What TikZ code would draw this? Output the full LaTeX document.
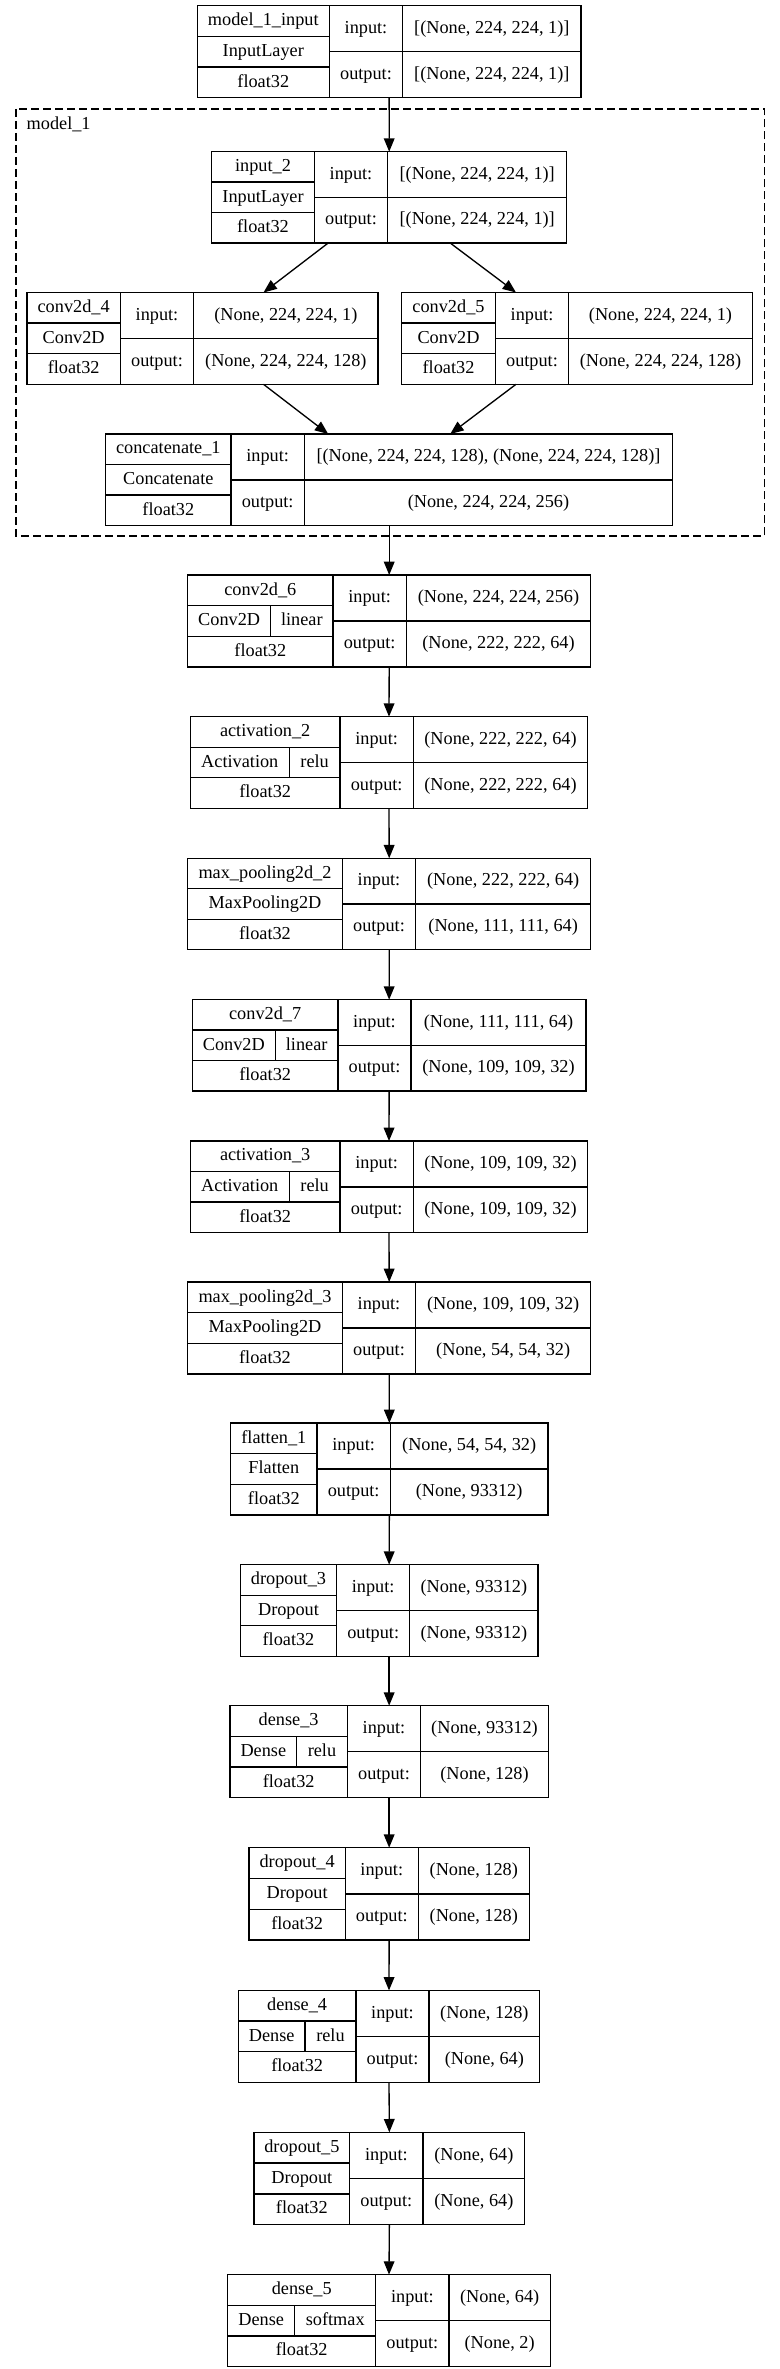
\documentclass[tikz,border=0pt]{standalone}
\usepackage{fontspec}
\setmainfont{Liberation Serif}
\usetikzlibrary{arrows.meta,calc}
\tikzset{
  boxnode/.style={draw=black, line width=1pt, rectangle, inner sep=0pt, outer sep=0pt},
  cellline/.style={draw=black, line width=1pt},
  txt/.style={inner sep=0pt, outer sep=0pt, anchor=center, text height=10pt, text depth=3pt, font=\fontsize{13.7}{16}\selectfont},
  arr/.style={draw=black, line width=1pt, -{Triangle[length=10pt,width=8pt]}},
  groupbox/.style={draw=black, line width=1pt, dash pattern=on 6pt off 3pt}
}
\newcommand\layerbox[8]{%
  \def\lN{#1}%
  \pgfmathsetmacro\lL{#2}\pgfmathsetmacro\lA{#3}\pgfmathsetmacro\lB{#4}\pgfmathsetmacro\lR{#5}%
  \pgfmathsetmacro\lT{#6}\pgfmathsetmacro\lBt{#7}%
  \pgfmathsetmacro\lH{\lBt-\lT}%
  \pgfmathsetmacro\lri{\lT+\lH/3}\pgfmathsetmacro\lrii{\lT+2*\lH/3}\pgfmathsetmacro\lrm{\lT+\lH/2}%
  \node[boxnode, minimum width={(\lR-\lL)*0.75pt}, minimum height={\lH*0.75pt}] (#1) at ({(\lL+\lR)/2},{(\lT+\lBt)/2}) {};
  \draw[cellline] (\lA,\lT) -- (\lA,\lBt) (\lB,\lT) -- (\lB,\lBt)
     (\lL,\lri) -- (\lA,\lri) (\lL,\lrii) -- (\lA,\lrii) (\lA,\lrm) -- (\lR,\lrm);
  \def\lM{#8}%
  \ifx\lM\empty\else \draw[cellline] (\lM,\lri) -- (\lM,\lrii);\fi
}
\newcommand\layertext[6]{%
  \node[txt] (\lN-title) at ({(\lL+\lA)/2},{(\lT+\lri)/2}) {#1};
  \ifx\lM\empty
    \node[txt] (\lN-type) at ({(\lL+\lA)/2},{(\lri+\lrii)/2}) {#2};
  \else
    \node[txt] (\lN-type) at ({(\lL+\lM)/2},{(\lri+\lrii)/2}) {#2};
    \node[txt] (\lN-act) at ({(\lM+\lA)/2},{(\lri+\lrii)/2}) {#3};
  \fi
  \node[txt] (\lN-dtype) at ({(\lL+\lA)/2},{(\lrii+\lBt)/2}) {#4};
  \node[txt] (\lN-inl) at ({(\lA+\lB)/2},{(\lT+\lrm)/2}) {input:};
  \node[txt] (\lN-outl) at ({(\lA+\lB)/2},{(\lrm+\lBt)/2}) {output:};
  \node[txt] (\lN-inv) at ({(\lB+\lR)/2},{(\lT+\lrm)/2}) {#5};
  \node[txt] (\lN-outv) at ({(\lB+\lR)/2},{(\lrm+\lBt)/2}) {#6};
}
\begin{document}
\begin{tikzpicture}[x=0.75pt,y=-0.75pt]
\useasboundingbox (0,0) rectangle (780,2369);
\fill[white] (0,0) rectangle (780,2369);

% group box
\draw[groupbox] (16,109) rectangle (764.3,536);
\node[inner sep=0pt, outer sep=0pt, anchor=base west, font=\fontsize{13.7}{16}\selectfont] (grouplabel) at (26.7,130) {model\_1};

\layerbox{m1in}{197.3}{329.3}{402.7}{581}{5.7}{97.7}{}
\layertext{model\_1\_input}{InputLayer}{}{float32}{[(None, 224, 224, 1)]}{[(None, 224, 224, 1)]}

\layerbox{in2}{211.7}{314.3}{387.7}{566.7}{151.7}{243}{}
\layertext{input\_2}{InputLayer}{}{float32}{[(None, 224, 224, 1)]}{[(None, 224, 224, 1)]}

\layerbox{c4}{27}{120.3}{193.7}{378}{292.5}{384.3}{}
\layertext{conv2d\_4}{Conv2D}{}{float32}{(None, 224, 224, 1)}{(None, 224, 224, 128)}

\layerbox{c5}{401.7}{495.3}{568.7}{752.3}{292.5}{384.3}{}
\layertext{conv2d\_5}{Conv2D}{}{float32}{(None, 224, 224, 1)}{(None, 224, 224, 128)}

\layerbox{cat}{105.7}{231}{304.3}{672.7}{434}{525.7}{}
\layertext{concatenate\_1}{Concatenate}{}{float32}{[(None, 224, 224, 128), (None, 224, 224, 128)]}{(None, 224, 224, 256)}

\layerbox{c6}{187.7}{333}{406.3}{590.7}{575}{667}{270.7}
\layertext{conv2d\_6}{Conv2D}{linear}{float32}{(None, 224, 224, 256)}{(None, 222, 222, 64)}

\layerbox{a2}{190.3}{340}{413.3}{587.7}{716.7}{808.3}{289.3}
\layertext{activation\_2}{Activation}{relu}{float32}{(None, 222, 222, 64)}{(None, 222, 222, 64)}

\layerbox{mp2}{187.7}{342.3}{415.7}{590.7}{858.3}{949.7}{}
\layertext{max\_pooling2d\_2}{MaxPooling2D}{}{float32}{(None, 222, 222, 64)}{(None, 111, 111, 64)}

\layerbox{c7}{192.3}{338}{411}{586}{999.7}{1091}{275.3}
\layertext{conv2d\_7}{Conv2D}{linear}{float32}{(None, 111, 111, 64)}{(None, 109, 109, 32)}

\layerbox{a3}{190.3}{340}{413.3}{587.7}{1141}{1232.7}{289.3}
\layertext{activation\_3}{Activation}{relu}{float32}{(None, 109, 109, 32)}{(None, 109, 109, 32)}

\layerbox{mp3}{187.7}{342.3}{415.7}{590.7}{1282}{1374}{}
\layertext{max\_pooling2d\_3}{MaxPooling2D}{}{float32}{(None, 109, 109, 32)}{(None, 54, 54, 32)}

\layerbox{fl}{230.7}{317}{390.3}{548}{1423}{1515}{}
\layertext{flatten\_1}{Flatten}{}{float32}{(None, 54, 54, 32)}{(None, 93312)}

\layerbox{dr3}{240.3}{336.7}{409.7}{538}{1564.7}{1656.3}{}
\layertext{dropout\_3}{Dropout}{}{float32}{(None, 93312)}{(None, 93312)}

\layerbox{d3}{230}{347.3}{420.7}{548.3}{1705.7}{1797.7}{296.7}
\layertext{dense\_3}{Dense}{relu}{float32}{(None, 93312)}{(None, 128)}

\layerbox{dr4}{249}{345.3}{418.3}{529.3}{1847.7}{1940}{}
\layertext{dropout\_4}{Dropout}{}{float32}{(None, 128)}{(None, 128)}

\layerbox{d4}{238.3}{356}{429}{539.7}{1990.4}{2082.3}{305}
\layertext{dense\_4}{Dense}{relu}{float32}{(None, 128)}{(None, 64)}

\layerbox{dr5}{254}{349.7}{423}{524.7}{2132.3}{2224.6}{}
\layertext{dropout\_5}{Dropout}{}{float32}{(None, 64)}{(None, 64)}

\layerbox{d5}{227.7}{375.7}{449}{550.3}{2274.6}{2366.5}{294.7}
\layertext{dense\_5}{Dense}{softmax}{float32}{(None, 64)}{(None, 2)}

% connectors
\draw[arr] (m1in.south) -- (in2.north);
\draw[arr] ($(in2.south)+(-61,0)$) -- ($(c4.north)+(61,0)$);
\draw[arr] ($(in2.south)+(61,0)$) -- ($(c5.north)+(-61,0)$);
\draw[arr] ($(c4.south)+(61,0)$) -- ($(cat.north)+(-61,0)$);
\draw[arr] ($(c5.south)+(-61,0)$) -- ($(cat.north)+(61,0)$);
\draw[arr] (cat.south) -- (c6.north);
\draw[arr] (c6.south) -- (a2.north);
\draw[arr] (a2.south) -- (mp2.north);
\draw[arr] (mp2.south) -- (c7.north);
\draw[arr] (c7.south) -- (a3.north);
\draw[arr] (a3.south) -- (mp3.north);
\draw[arr] (mp3.south) -- (fl.north);
\draw[arr] (fl.south) -- (dr3.north);
\draw[arr] (dr3.south) -- (d3.north);
\draw[arr] (d3.south) -- (dr4.north);
\draw[arr] (dr4.south) -- (d4.north);
\draw[arr] (d4.south) -- (dr5.north);
\draw[arr] (dr5.south) -- (d5.north);
\end{tikzpicture}
\end{document}
